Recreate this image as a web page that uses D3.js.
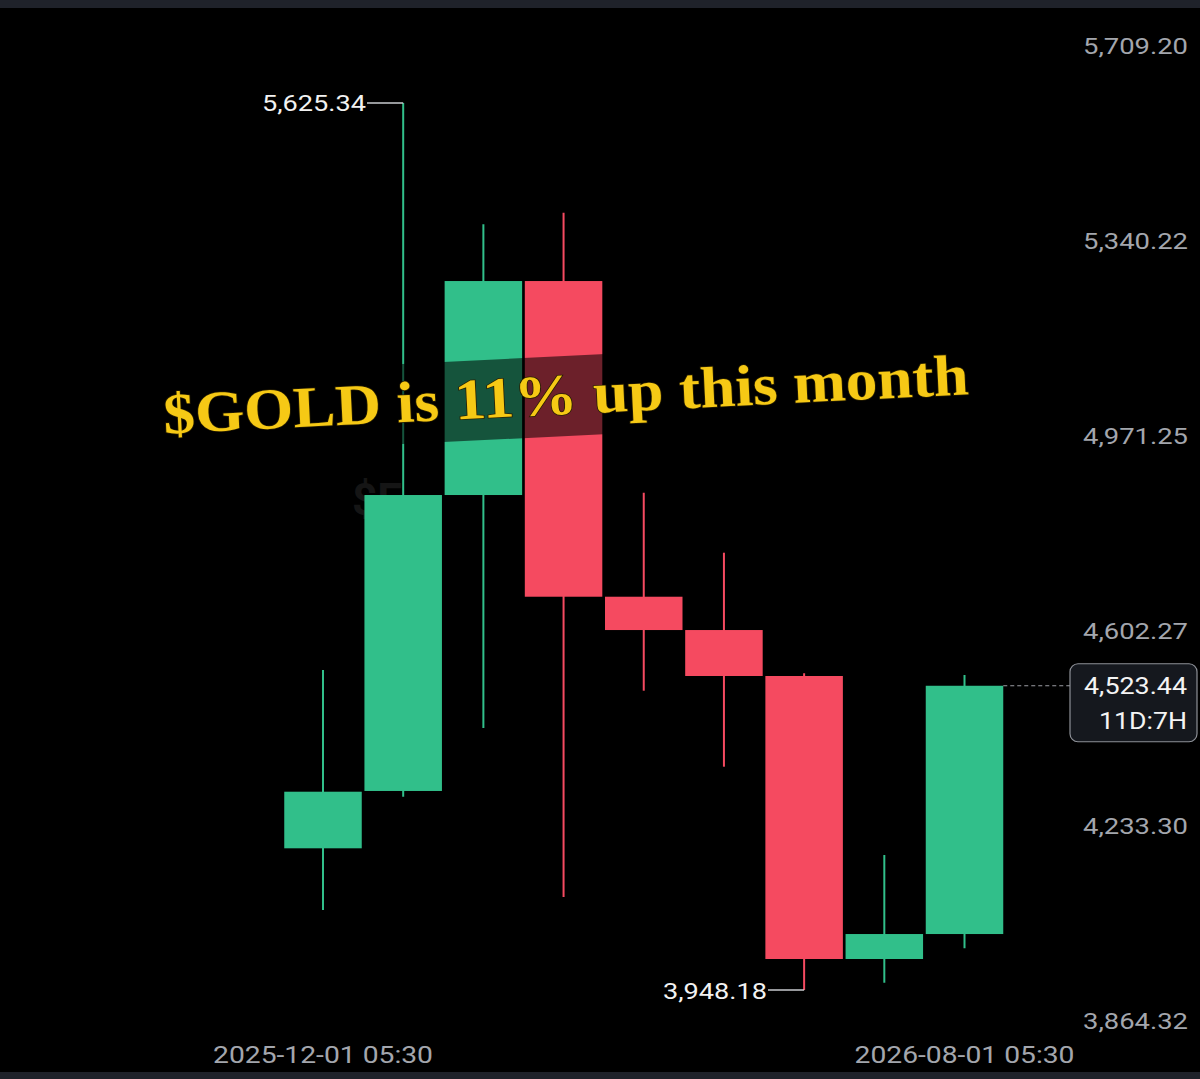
<!DOCTYPE html>
<html>
<head>
<meta charset="utf-8">
<script src="https://cdn.jsdelivr.net/npm/d3@7"></script>
<style>
  html, body { margin: 0; padding: 0; background: #000; }
  svg { display: block; }
</style>
</head>
<body>
<svg id="chart" width="1200" height="1079"></svg>
<script>
// ---- data ----
const months = ["2025-12","2026-01","2026-02","2026-03","2026-04","2026-05","2026-06","2026-07","2026-08"];
const opens  = [4216.1, 4324.5, 4884.1, 5288.7, 4691.8, 4628.8, 4541.9, 4006.8, 4054.0];
const highs  = [4553.2, 5625.34, 5395.9, 5417.9, 4888.4, 4775.0, 4547.0, 4203.4, 4543.7];
const lows   = [4099.4, 4313.6, 4443.5, 4124.0, 4514.1, 4370.4, 3948.18, 3961.9, 4027.0];
const closes = [4323.1, 4884.1, 5288.7, 4691.8, 4628.8, 4541.9, 4006.8, 4054.0, 4523.44];
const yTicks = [5709.20, 5340.22, 4971.25, 4602.27, 4233.30, 3864.32];
const xTickMonths = ["2025-12", "2026-08"];
const xTickLabels = ["2025-12-01 05:30", "2026-08-01 05:30"];
const lastPrice = 4523.44;
const countdown = "11D:7H";
const highValue = 5625.34, lowValue = 3948.18;
const annotation = "$GOLD is 11% up this month";

const GREEN = "#31bf8a", RED = "#f54a60";
const fmt = d3.format(",.2f");

const svg = d3.select("#chart");

// frame bands
svg.append("rect").attr("x",0).attr("y",0).attr("width",1200).attr("height",8).attr("fill","#1f222a");
svg.append("rect").attr("x",0).attr("y",1072).attr("width",1200).attr("height",7).attr("fill","#1f222a");

const y = d3.scaleLinear().domain([lowValue, highValue]).range([990, 103]);
const x = d3.scalePoint().domain(months).range([323, 964.5]);
const bodyW = 77.5;

// faint watermark fragment
svg.append("text").attr("x",352).attr("y",515).attr("fill","#151515")
  .attr("font-family","Roboto, sans-serif").attr("font-size",44).attr("font-weight","bold").text("$E");

// y-axis labels
svg.append("g").selectAll("text").data(yTicks).join("text")
  .attr("x", 1188).attr("y", d => y(d) - 5)
  .attr("text-anchor","end")
  .attr("fill","#a3a6ad")
  .attr("font-family","Roboto, 'Noto Sans', sans-serif")
  .attr("font-size",22)
  .attr("textLength",105).attr("lengthAdjust","spacingAndGlyphs")
  .text(d => fmt(d));

// x-axis labels
svg.append("g").selectAll("text").data(xTickMonths).join("text")
  .attr("x", d => x(d)).attr("y", 1063)
  .attr("text-anchor","middle")
  .attr("fill","#a3a6ad")
  .attr("font-family","Roboto, 'Noto Sans', sans-serif")
  .attr("font-size",23)
  .attr("textLength",220).attr("lengthAdjust","spacingAndGlyphs")
  .text((d,i) => xTickLabels[i]);

const data = months.map((m,i) => ({m, o:opens[i], h:highs[i], l:lows[i], c:closes[i]}));

const g = svg.append("g");
// wicks
g.selectAll("line.wick").data(data).join("line")
  .attr("class","wick")
  .attr("x1", d => x(d.m)).attr("x2", d => x(d.m))
  .attr("y1", d => y(d.h)).attr("y2", d => y(d.l))
  .attr("stroke", d => d.c >= d.o ? GREEN : RED)
  .attr("stroke-width", 2);
// bodies
g.selectAll("rect.body").data(data).join("rect")
  .attr("class","body")
  .attr("x", d => x(d.m) - bodyW/2)
  .attr("width", bodyW)
  .attr("y", d => y(Math.max(d.o,d.c)))
  .attr("height", d => Math.max(1, Math.abs(y(d.o) - y(d.c))))
  .attr("fill", d => d.c >= d.o ? GREEN : RED);

// high / low markers
const hiX = x(months[highs.indexOf(highValue)]);
const loX = x(months[lows.indexOf(lowValue)]);
svg.append("line").attr("x1",367).attr("x2",hiX).attr("y1",y(highValue)).attr("y2",y(highValue))
  .attr("stroke","#c9cbcf").attr("stroke-width",1.5);
svg.append("text").attr("x",366).attr("y",y(highValue)+8).attr("text-anchor","end")
  .attr("fill","#f2f2f2").attr("font-family","Roboto, 'Noto Sans', sans-serif").attr("font-size",22)
  .attr("textLength",104).attr("lengthAdjust","spacingAndGlyphs")
  .text(fmt(highValue));
svg.append("line").attr("x1",768).attr("x2",loX).attr("y1",y(lowValue)).attr("y2",y(lowValue))
  .attr("stroke","#c9cbcf").attr("stroke-width",1.5);
svg.append("text").attr("x",767).attr("y",y(lowValue)+9).attr("text-anchor","end")
  .attr("fill","#f2f2f2").attr("font-family","Roboto, 'Noto Sans', sans-serif").attr("font-size",22)
  .attr("textLength",104).attr("lengthAdjust","spacingAndGlyphs")
  .text(fmt(lowValue));

// last price dashed line + label box
const lastX = x(months[months.length-1]) + bodyW/2;
svg.append("line").attr("x1", lastX).attr("x2", 1070).attr("y1", y(lastPrice)).attr("y2", y(lastPrice))
  .attr("stroke","#9a9ca2").attr("stroke-width",1.2).attr("stroke-dasharray","4,3");
svg.append("rect").attr("x",1070).attr("y",y(lastPrice)-22).attr("width",127).attr("height",78).attr("rx",8)
  .attr("fill","#15181e").attr("stroke","#8d9097").attr("stroke-width",1.2);
svg.append("text").attr("x",1187).attr("y",y(lastPrice)+8).attr("text-anchor","end")
  .attr("fill","#f4f4f4").attr("font-family","Roboto, 'Noto Sans', sans-serif").attr("font-size",23)
  .attr("textLength",103).attr("lengthAdjust","spacingAndGlyphs")
  .text(fmt(lastPrice));
svg.append("text").attr("x",1187).attr("y",y(lastPrice)+43).attr("text-anchor","end")
  .attr("fill","#f4f4f4").attr("font-family","Roboto, 'Noto Sans', sans-serif").attr("font-size",23)
  .attr("textLength",88).attr("lengthAdjust","spacingAndGlyphs")
  .text(countdown);

// annotation with dark band
const ann = svg.append("g").attr("transform","translate(566,396) rotate(-2.8)");
ann.append("rect").attr("x",-420).attr("y",-40).attr("width",840).attr("height",80)
  .attr("fill","#000").attr("opacity",0.56);
ann.append("text").attr("x",0).attr("y",18).attr("text-anchor","middle")
  .attr("fill","#f6c915")
  .attr("stroke","#2a2000").attr("stroke-width",1.5).attr("paint-order","stroke")
  .attr("font-family","'Liberation Serif', 'DejaVu Serif', serif")
  .attr("font-weight","bold").attr("font-size",58)
  .attr("textLength",806).attr("lengthAdjust","spacingAndGlyphs")
  .text(annotation);
</script>
</body>
</html>
